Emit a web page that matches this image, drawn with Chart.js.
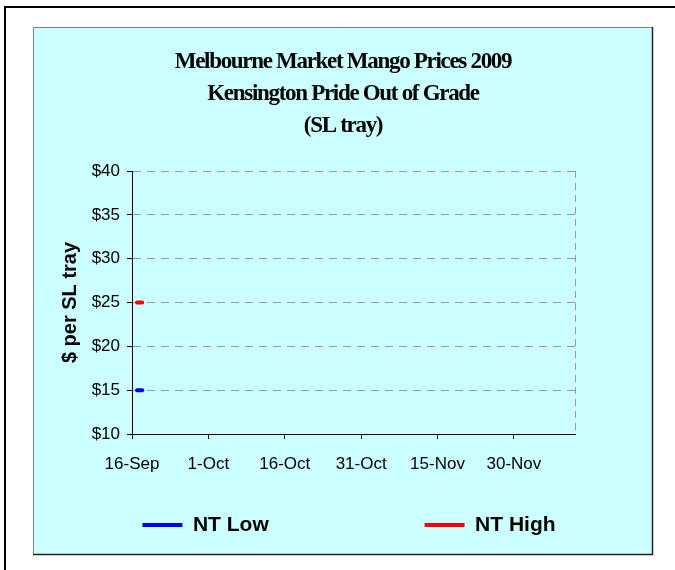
<!DOCTYPE html>
<html>
<head>
<meta charset="utf-8">
<title>Melbourne Market Mango Prices 2009</title>
<script src="https://cdn.jsdelivr.net/npm/chart.js@4/dist/chart.umd.min.js"></script>
<style>
    html, body { margin: 0; padding: 0; background: #ffffff; overflow: hidden; }
    #mangoChart { display: block; }
</style>
</head>
<body>
<canvas id="mangoChart" width="675" height="570"></canvas>
<script>
// --- data ---
const titleLines = ['Melbourne Market Mango Prices 2009', 'Kensington Pride Out of Grade', '(SL tray)'];
const seriesNames = ['NT Low', 'NT High'];
const priceDates = ['2009-09-17', '2009-09-18'];
const ntLow = [15, 15];
const ntHigh = [25, 25];
const xTickDates = ['2009-09-16', '2009-10-01', '2009-10-16', '2009-10-31', '2009-11-15', '2009-11-30'];
const xTickLabels = ['16-Sep', '1-Oct', '16-Oct', '31-Oct', '15-Nov', '30-Nov'];
const axisStart = '2009-09-16';
const axisEnd = '2009-12-12';

// days since the first axis date
const dayOf = s => (Date.parse(s) - Date.parse(axisStart)) / 86400000;
const xMax = dayOf(axisEnd);

const frame = {
    id: 'frame',
    beforeDraw(chart) {
        const ctx = chart.ctx;
        ctx.save();
        ctx.fillStyle = '#ffffff';
        ctx.fillRect(0, 0, chart.width, chart.height);
        // outer frame, only left and top edges are in view
        ctx.strokeStyle = '#000000';
        ctx.lineWidth = 2;
        ctx.beginPath();
        ctx.moveTo(5, chart.height);
        ctx.lineTo(5, 7);
        ctx.lineTo(chart.width, 7);
        ctx.stroke();
        // cyan panel
        ctx.fillStyle = '#CCFFFF';
        ctx.fillRect(33, 27, 620, 527);
        ctx.lineWidth = 1;
        ctx.strokeStyle = '#808080';
        ctx.beginPath();
        ctx.moveTo(33.5, 554);
        ctx.lineTo(33.5, 27.5);
        ctx.lineTo(653, 27.5);
        ctx.stroke();
        ctx.strokeStyle = '#222222';
        ctx.lineWidth = 1.5;
        ctx.beginPath();
        ctx.moveTo(652.5, 27);
        ctx.lineTo(652.5, 554.5);
        ctx.lineTo(33, 554.5);
        ctx.stroke();
        ctx.restore();
    },
    afterDraw(chart) {
        const ctx = chart.ctx;
        ctx.save();
        ctx.fillStyle = '#000000';
        ctx.font = 'bold 23px "Liberation Serif", "Times New Roman", serif';
        ctx.letterSpacing = '-1.3px';
        ctx.textAlign = 'center';
        ctx.textBaseline = 'middle';
        const ys = [62, 94, 126];
        titleLines.forEach((t, i) => ctx.fillText(t, 343, ys[i]));
        ctx.restore();
    }
};

const ctx = document.getElementById('mangoChart').getContext('2d');

new Chart(ctx, {
    type: 'line',
    data: {
        datasets: [
            {
                label: seriesNames[0] + ' '.repeat(25),
                data: priceDates.map((d, i) => ({ x: dayOf(d), y: ntLow[i] })),
                borderColor: '#0000FF',
                backgroundColor: '#0000FF',
                borderWidth: 4,
                borderCapStyle: 'round',
                pointRadius: 0
            },
            {
                label: seriesNames[1],
                data: priceDates.map((d, i) => ({ x: dayOf(d), y: ntHigh[i] })),
                borderColor: '#FF0000',
                backgroundColor: '#FF0000',
                borderWidth: 4,
                borderCapStyle: 'round',
                pointRadius: 0
            }
        ]
    },
    options: {
        responsive: false,
        animation: false,
        devicePixelRatio: 1,
        layout: {
            padding: { left: 33, right: 10, top: 171, bottom: 24.5 }
        },
        scales: {
            x: {
                type: 'linear',
                min: 0,
                max: xMax,
                afterBuildTicks: scale => {
                    // date ticks plus the axis end, which only carries the dashed right edge
                    scale.ticks = xTickDates.map(d => ({ value: dayOf(d) })).concat([{ value: xMax }]);
                },
                afterFit: scale => { scale.height = 70.5; },
                grid: {
                    color: c => (c.tick && c.tick.value === xMax) ? '#999999' : 'rgba(0,0,0,0)',
                    tickLength: 5,
                    tickColor: c => (c.tick && c.tick.value === xMax) ? 'rgba(0,0,0,0)' : '#000000'
                },
                border: { color: '#000000', width: 1, dash: [7, 5] },
                ticks: {
                    autoSkip: false,
                    maxRotation: 0,
                    padding: 15,
                    color: '#000000',
                    font: { family: '"Liberation Sans", Arial, sans-serif', size: 17 },
                    callback: (v, i) => xTickLabels[i] || ''
                }
            },
            y: {
                min: 10,
                max: 40,
                afterFit: scale => { scale.width = 99; },
                grid: {
                    color: '#999999',
                    tickLength: 5,
                    tickColor: '#000000'
                },
                border: { color: '#000000', width: 1, dash: [8, 6] },
                ticks: {
                    stepSize: 5,
                    padding: 7,
                    color: '#000000',
                    font: { family: '"Liberation Sans", Arial, sans-serif', size: 17 },
                    callback: v => '$' + v
                },
                title: {
                    display: true,
                    text: '$ per SL tray',
                    color: '#000000',
                    padding: { top: 25, bottom: 4 },
                    font: { family: '"Liberation Sans", Arial, sans-serif', size: 20, weight: 'bold' }
                }
            },
            ySpace: {
                // empty right-hand axis that keeps the plot clear of the panel edge
                position: 'right',
                min: 10,
                max: 40,
                afterFit: scale => { scale.width = 90; },
                grid: { display: false },
                ticks: { display: false },
                border: { display: false }
            }
        },
        plugins: {
            title: { display: false },
            tooltip: { enabled: false },
            legend: {
                position: 'bottom',
                labels: {
                    boxWidth: 40,
                    boxHeight: 4,
                    padding: 10,
                    color: '#000000',
                    font: { family: '"Liberation Sans", Arial, sans-serif', size: 21, weight: 'bold' },
                    generateLabels: chart => Chart.defaults.plugins.legend.labels.generateLabels(chart)
                        .map(item => Object.assign(item, { lineWidth: 0 }))
                }
            }
        }
    },
    plugins: [frame]
});
</script>
</body>
</html>
